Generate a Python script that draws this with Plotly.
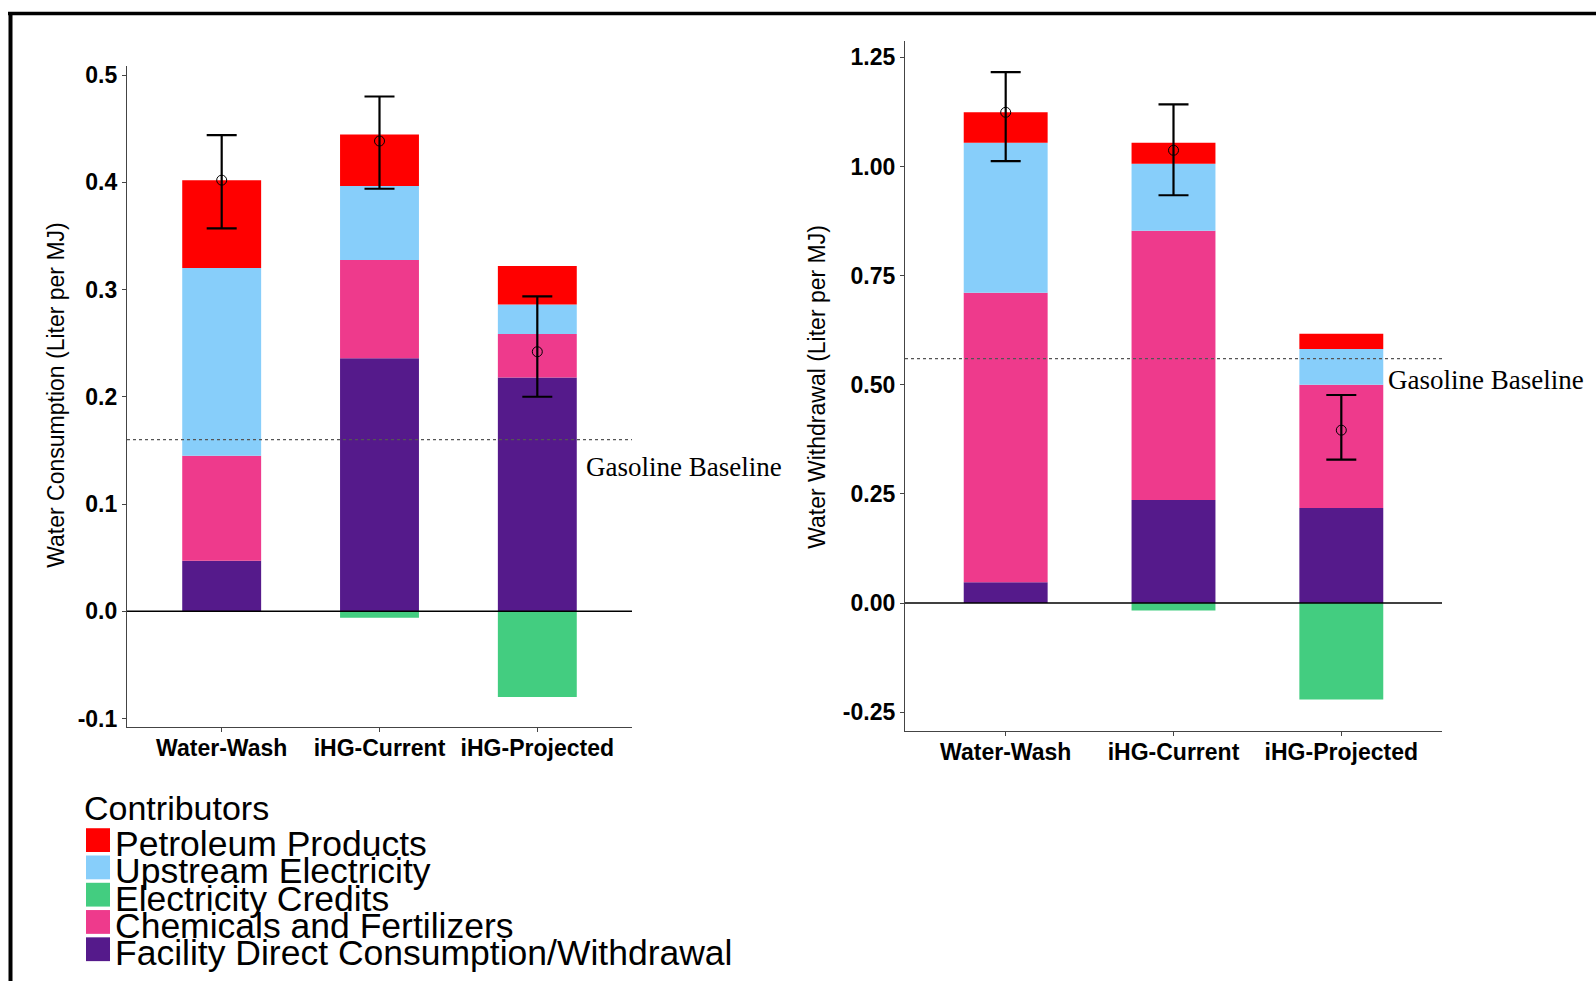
import plotly.graph_objects as go

# ---- data -------------------------------------------------------------
categories = ["Water-Wash", "iHG-Current", "iHG-Projected"]

contributors = [
    "Petroleum Products",
    "Upstream Electricity",
    "Electricity Credits",
    "Chemicals and Fertilizers",
    "Facility Direct Consumption/Withdrawal",
]
colors = {
    "Petroleum Products": "#FF0000",
    "Upstream Electricity": "#87CEFA",
    "Electricity Credits": "#43CD80",
    "Chemicals and Fertilizers": "#EE3A8C",
    "Facility Direct Consumption/Withdrawal": "#551A8B",
}

# Water consumption (Liter per MJ)
facility_c = [0.047, 0.236, 0.218]
chemicals_c = [0.098, 0.0915, 0.0405]
upstream_c = [0.175, 0.069, 0.0275]
petroleum_c = [0.082, 0.048, 0.036]
credits_c = [0.0, -0.006, -0.080]
err_low_c = [0.357, 0.394, 0.200]
err_high_c = [0.444, 0.480, 0.2936]
baseline_c = 0.16
ticks_c = [-0.1, 0.0, 0.1, 0.2, 0.3, 0.4, 0.5]
ticklabels_c = ["-0.1", "0.0", "0.1", "0.2", "0.3", "0.4", "0.5"]

# Water withdrawal (Liter per MJ)
facility_w = [0.048, 0.236, 0.2175]
chemicals_w = [0.663, 0.617, 0.2825]
upstream_w = [0.343, 0.153, 0.082]
petroleum_w = [0.070, 0.048, 0.035]
credits_w = [0.0, -0.017, -0.221]
err_low_w = [1.012, 0.934, 0.3285]
err_high_w = [1.216, 1.142, 0.4766]
baseline_w = 0.56
ticks_w = [-0.25, 0.0, 0.25, 0.5, 0.75, 1.0, 1.25]
ticklabels_w = ["-0.25", "0.00", "0.25", "0.50", "0.75", "1.00", "1.25"]

W, H = 1596, 981


def px_x(v):
    return v / W


def px_y(v):
    return (H - v) / H


fig = go.Figure()


def add_panel(xa, ya, facility, chemicals, upstream, petroleum, credits, lo, hi):
    stack = [
        ("Facility Direct Consumption/Withdrawal", facility),
        ("Chemicals and Fertilizers", chemicals),
        ("Upstream Electricity", upstream),
        ("Petroleum Products", petroleum),
        ("Electricity Credits", credits),
    ]
    for name, vals in stack:
        fig.add_trace(go.Bar(
            x=categories, y=vals, name=name, width=0.5,
            marker=dict(color=colors[name], line=dict(width=0)),
            xaxis=xa, yaxis=ya, showlegend=False,
        ))
    net = [f + c + u + p + cr for f, c, u, p, cr in
           zip(facility, chemicals, upstream, petroleum, credits)]
    fig.add_trace(go.Scatter(
        x=categories, y=net, mode="markers", xaxis=xa, yaxis=ya,
        showlegend=False,
        marker=dict(symbol="circle-open", size=10, color="black",
                    line=dict(width=1, color="black")),
        error_y=dict(type="data", symmetric=False,
                     array=[h - n for h, n in zip(hi, net)],
                     arrayminus=[n - l for n, l in zip(net, lo)],
                     color="black", thickness=2.2, width=15),
    ))


add_panel("x", "y", facility_c, chemicals_c, upstream_c, petroleum_c,
          credits_c, err_low_c, err_high_c)
add_panel("x2", "y2", facility_w, chemicals_w, upstream_w, petroleum_w,
          credits_w, err_low_w, err_high_w)

tick_font = dict(family="Liberation Sans, Arial", size=23, color="black",
                 weight="bold")
xcommon = dict(
    type="category", range=[-0.6, 2.6], showline=True, linecolor="#444",
    linewidth=1.2, ticks="outside", ticklen=4, tickcolor="#444",
    tickfont=tick_font, showgrid=False, zeroline=False,
    ticklabelstandoff=-4,
)
ycommon = dict(
    showline=True, linecolor="#444", linewidth=1.2, ticks="outside",
    ticklen=4, tickcolor="#444", tickfont=tick_font, showgrid=False,
    zeroline=False,
)

fig.update_layout(
    width=W, height=H,
    margin=dict(l=0, r=0, t=0, b=0),
    paper_bgcolor="white", plot_bgcolor="white",
    barmode="relative", bargap=0.5,
    showlegend=False,
    xaxis=dict(domain=[px_x(127), px_x(632)], anchor="y", **xcommon),
    yaxis=dict(domain=[px_y(729), px_y(63)], anchor="x",
               range=[-0.108, 0.508], tickvals=ticks_c, ticktext=ticklabels_c,
               **ycommon),
    xaxis2=dict(domain=[px_x(905), px_x(1442)], anchor="y2", **xcommon),
    yaxis2=dict(domain=[px_y(733), px_y(37)], anchor="x2",
                range=[-0.293, 1.288], tickvals=ticks_w, ticktext=ticklabels_w,
                **ycommon),
)

shapes = []
# zero lines and gasoline baselines
for xr, yr, base in (("x", "y", baseline_c), ("x2", "y2", baseline_w)):
    shapes.append(dict(type="line", xref=f"{xr} domain", yref=yr,
                       x0=0, x1=1, y0=0, y1=0,
                       line=dict(color="black", width=1.5), layer="above"))
    shapes.append(dict(type="line", xref=f"{xr} domain", yref=yr,
                       x0=0, x1=1, y0=base, y1=base,
                       line=dict(color="#555", width=1.2, dash="dot"),
                       layer="above"))

# outer frame (top and left edges)
shapes.append(dict(type="line", xref="paper", yref="paper",
                   x0=px_x(8), x1=1.01, y0=px_y(9.5), y1=px_y(9.5),
                   line=dict(color="black", width=3.5)))
shapes.append(dict(type="line", xref="paper", yref="paper",
                   x0=px_x(10.5), x1=px_x(10.5), y0=px_y(8), y1=-0.01,
                   line=dict(color="black", width=4)))

# legend keys
key_tops = [831, 858.5, 886, 913.5, 941]
for name, top in zip(contributors, key_tops):
    shapes.append(dict(type="rect", xref="paper", yref="paper",
                       x0=px_x(86), x1=px_x(110), y0=px_y(top + 24), y1=px_y(top),
                       fillcolor=colors[name], line=dict(width=0)))

annotations = []
axis_title_font = dict(family="Liberation Sans, Arial", size=23, color="black")
annotations.append(dict(text="Water Consumption (Liter per MJ)", xref="paper",
                        yref="paper", x=px_x(56), y=px_y(394), textangle=-90,
                        showarrow=False, font=axis_title_font,
                        xanchor="center", yanchor="middle"))
annotations.append(dict(text="Water Withdrawal (Liter per MJ)", xref="paper",
                        yref="paper", x=px_x(817), y=px_y(386), textangle=-90,
                        showarrow=False, font=axis_title_font,
                        xanchor="center", yanchor="middle"))

serif_font = dict(family="Liberation Serif, Times New Roman", size=27, color="black")
annotations.append(dict(text="Gasoline Baseline", xref="paper", yref="paper",
                        x=px_x(584), y=px_y(467), showarrow=False,
                        font=serif_font, xanchor="left", yanchor="middle"))
annotations.append(dict(text="Gasoline Baseline", xref="paper", yref="paper",
                        x=px_x(1386), y=px_y(379), showarrow=False,
                        font=serif_font, xanchor="left", yanchor="middle"))

legend_font = dict(family="Liberation Sans, Arial", size=35.5, color="black")
annotations.append(dict(text="Contributors", xref="paper", yref="paper",
                        x=px_x(82), y=px_y(811), showarrow=False,
                        font=dict(family="Liberation Sans, Arial", size=34,
                                  color="black"),
                        xanchor="left", yanchor="middle"))
for name, top in zip(contributors, key_tops):
    annotations.append(dict(text=name, xref="paper", yref="paper",
                            x=px_x(113), y=px_y(top + 16), showarrow=False,
                            font=legend_font, xanchor="left", yanchor="middle"))

fig.update_layout(shapes=shapes, annotations=annotations)

fig.write_html("out.html")
